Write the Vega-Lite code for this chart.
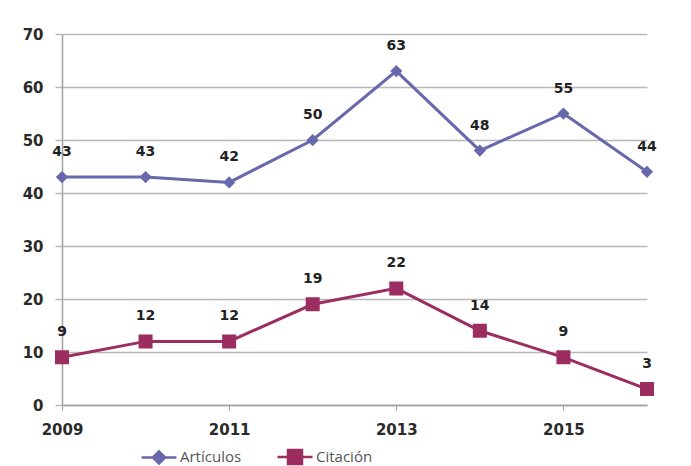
{
  "$schema": "https://vega.github.io/schema/vega-lite/v6.json",
  "autosize": "none",
  "width": 585,
  "height": 371,
  "padding": {"left": 62, "top": 34, "right": 44, "bottom": 61},
  "background": "white",
  "config": {
    "view": {"stroke": null},
    "font": "DejaVu Sans"
  },
  "data": {
    "values": [
      {"year": 2009, "serie": "Artículos", "value": 43},
      {"year": 2010, "serie": "Artículos", "value": 43},
      {"year": 2011, "serie": "Artículos", "value": 42},
      {"year": 2012, "serie": "Artículos", "value": 50},
      {"year": 2013, "serie": "Artículos", "value": 63},
      {"year": 2014, "serie": "Artículos", "value": 48},
      {"year": 2015, "serie": "Artículos", "value": 55},
      {"year": 2016, "serie": "Artículos", "value": 44},
      {"year": 2009, "serie": "Citación", "value": 9},
      {"year": 2010, "serie": "Citación", "value": 12},
      {"year": 2011, "serie": "Citación", "value": 12},
      {"year": 2012, "serie": "Citación", "value": 19},
      {"year": 2013, "serie": "Citación", "value": 22},
      {"year": 2014, "serie": "Citación", "value": 14},
      {"year": 2015, "serie": "Citación", "value": 9},
      {"year": 2016, "serie": "Citación", "value": 3}
    ]
  },
  "encoding": {
    "x": {
      "field": "year", "type": "quantitative",
      "scale": {"domain": [2009, 2016], "nice": false, "zero": false},
      "axis": {
        "title": null, "values": [2009, 2011, 2013, 2015], "format": "d",
        "grid": false, "domainColor": "#a0a0a0", "domainWidth": 1.5,
        "tickColor": "#a0a0a0", "tickSize": 5, "labelPadding": 12,
        "labelFont": "DejaVu Sans", "labelFontWeight": "bold", "labelFontSize": 15,
        "labelColor": "#2a2a2a", "labelFlush": false
      }
    },
    "y": {
      "field": "value", "type": "quantitative",
      "scale": {"domain": [0, 70], "nice": false},
      "axis": {
        "title": null, "values": [0, 10, 20, 30, 40, 50, 60, 70],
        "grid": true, "gridColor": "#b8b8b8", "gridWidth": 1.5,
        "domainColor": "#a0a0a0", "domainWidth": 1.5,
        "tickColor": "#b8b8b8", "tickSize": 7, "tickWidth": 1.5, "labelPadding": 12,
        "labelFont": "DejaVu Sans", "labelFontWeight": "bold", "labelFontSize": 15,
        "labelColor": "#2a2a2a"
      }
    }
  },
  "layer": [
    {
      "mark": {"type": "line", "strokeWidth": 3},
      "encoding": {
        "color": {
          "field": "serie", "type": "nominal",
          "scale": {"domain": ["Artículos", "Citación"], "range": ["#6868ac", "#9c2d60"]}
        }
      }
    },
    {
      "mark": {"type": "point", "filled": true, "opacity": 1, "strokeWidth": 0, "size": 1225},
      "encoding": {
        "color": {
          "field": "serie", "type": "nominal",
          "scale": {"domain": ["Artículos", "Citación"], "range": ["#6868ac", "#9c2d60"]},
          "legend": {
            "title": null, "orient": "none", "direction": "horizontal",
            "legendX": 78, "legendY": 404,
            "symbolSize": 1225, "symbolStrokeWidth": 2.5,
            "labelFont": "Open Sans", "labelFontSize": 15, "labelColor": "#555555",
            "labelOffset": 2, "columnPadding": 30, "symbolOpacity": 1,
            "encode": {
              "symbols": {
                "update": {
                  "stroke": {"scale": "color", "field": "value"},
                  "fill": {"scale": "color", "field": "value"},
                  "strokeWidth": {"value": 2.5},
                  "opacity": {"value": 1}
                }
              }
            }
          }
        },
        "shape": {
          "field": "serie", "type": "nominal",
          "scale": {
            "domain": ["Artículos", "Citación"],
            "range": [
              "M-1,0H1M0,-0.35L0.35,0L0,0.35L-0.35,0Z",
              "M-1,0H1M-0.4,-0.4H0.4V0.4H-0.4Z"
            ]
          }
        }
      }
    },
    {
      "mark": {
        "type": "text", "dy": -25, "font": "DejaVu Sans", "fontWeight": "bold",
        "fontSize": 14, "color": "#222222"
      },
      "encoding": {
        "text": {"field": "value", "type": "quantitative"}
      }
    }
  ]
}
